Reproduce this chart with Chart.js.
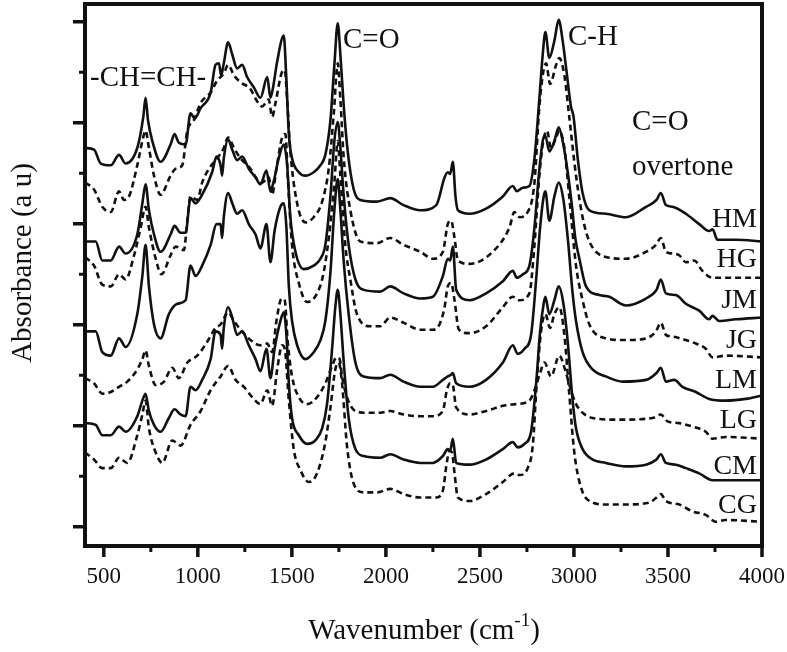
<!DOCTYPE html>
<html lang="en">
  <head>
    <meta charset="UTF-8" />
    <title>FTIR spectra</title>
    <script src="https://cdn.jsdelivr.net/npm/chart.js"></script>
    <style>
      html, body { margin: 0; padding: 0; background: #ffffff; }
      .chart-container { position: relative; width: 787px; height: 652px; }
    </style>
  </head>
  <body>
    <div class="chart-container">
      <canvas id="ftirChart"></canvas>
    </div>

    <script>
      // [wavenumber (cm-1), absorbance (a.u., stacked offsets)]
      const HM = [[400,117],[448,116.5],[484,112.5],[537,112],[581,115],[616,112.5],[678,117],[710,126],[722,131.5],[735,125],[758,119],[802,113],[855,118],[876,121],[899,118.5],[935,118],[961,127],[983,125.5],[1015,128.5],[1068,133],[1094,141],[1112,141.5],[1124,138],[1138,141.5],[1161,147.5],[1183,144],[1209,140],[1236,141],[1262,137.5],[1298,134.5],[1333,131.5],[1369,137.5],[1386,131.5],[1400,134.5],[1422,142],[1457,149.5],[1469,139],[1484,121],[1501,114],[1537,110],[1572,109],[1616,110],[1652,112],[1678,115],[1705,125],[1726,141],[1744,153],[1758,144],[1776,129],[1797,116],[1829,105],[1864,102],[1953,101.5],[2023,102.5],[2094,100.5],[2183,99],[2268,100.5],[2312,108.5],[2329,110],[2342,109.5],[2356,113],[2370,103],[2383,99],[2445,98],[2533,99.5],[2622,103],[2675,106],[2696,104.5],[2728,105.5],[2763,106],[2790,114],[2813,129],[2834,144],[2848,150.5],[2869,143],[2896,148],[2919,154],[2940,148],[2961,139],[2984,129],[2998,126],[3020,114],[3046,104],[3082,99],[3170,98],[3276,97],[3383,100],[3439,102],[3462,104],[3489,100.5],[3524,100],[3595,98],[3666,95],[3719,93],[3737,93.5],[3763,90.5],[3861,90.5],[4000,90]];
      const HG = [[400,107],[448,105],[492,100],[537,98.5],[581,104.5],[607,102],[634,103],[678,112],[705,119],[722,122],[740,117],[767,109],[802,103.5],[855,109],[882,111],[917,112],[944,122],[979,125],[1015,130],[1068,133],[1103,136.5],[1138,138.5],[1161,141],[1192,138],[1227,136],[1280,134],[1315,130.5],[1342,129],[1377,131],[1395,126],[1413,130],[1448,139],[1462,139.5],[1475,131],[1492,116],[1528,101],[1572,95.5],[1616,97],[1661,101.5],[1696,111],[1723,127],[1744,141.5],[1758,131],[1776,114],[1811,99],[1864,90],[1953,89.5],[2023,91],[2094,89],[2183,87],[2250,85],[2303,87],[2329,95],[2347,96],[2365,91],[2383,84.5],[2445,83.5],[2568,87],[2657,94],[2683,98.5],[2710,97],[2754,98.5],[2790,107],[2816,129],[2837,139],[2852,141.5],[2873,135.5],[2905,141],[2922,143],[2949,138],[2975,126],[3011,109],[3046,97],[3082,90],[3170,85.5],[3276,85],[3383,87],[3436,89],[3462,91],[3489,87],[3524,86.5],[3560,86],[3595,84],[3639,84.5],[3683,81.5],[3737,79.5],[3807,79.5],[4000,79.5]];
      const JM = [[400,90],[457,90],[492,84.5],[537,84.5],[581,88.5],[616,86.5],[678,92],[705,101],[722,106.5],[740,99],[767,92],[802,87],[855,92],[876,94.5],[908,92.5],[935,92.5],[961,102.5],[988,101],[1023,103.5],[1076,110],[1099,114.5],[1121,112],[1129,109],[1138,114],[1161,119.5],[1183,116.5],[1209,113.5],[1236,114.5],[1271,111],[1307,108.5],[1333,106.5],[1365,110.5],[1386,104.5],[1404,107.5],[1430,114],[1457,118],[1475,112],[1492,97],[1519,87],[1563,82],[1616,83],[1652,85],[1678,89],[1705,103],[1726,119],[1744,124.5],[1758,117],[1776,103],[1802,89],[1838,79],[1882,76],[1970,75.5],[2023,77],[2094,75],[2183,73.5],[2250,74],[2303,80],[2329,85],[2342,84.5],[2356,88.5],[2374,76],[2445,73],[2533,75],[2622,78.5],[2675,81.5],[2696,79.5],[2728,80.5],[2763,83],[2790,94],[2813,109],[2834,119],[2848,120.5],[2869,116],[2896,119],[2919,123],[2940,119],[2967,110],[2990,100],[3007,91],[3029,85],[3064,77],[3135,74.5],[3188,74],[3276,71.5],[3383,73.5],[3439,76],[3462,79],[3489,75],[3542,74.5],[3595,72],[3666,70],[3719,67.5],[3737,68.5],[3772,67],[3861,67.5],[4000,68]];
      const JG = [[400,85.5],[448,83],[492,77.5],[537,77],[581,80.5],[616,79],[661,86],[696,94],[722,100],[740,94],[776,85],[806,80.5],[855,86],[882,88.5],[926,87.5],[944,96],[961,103],[997,102],[1023,107],[1059,111],[1103,114],[1138,117],[1161,120],[1192,117],[1227,114],[1280,111],[1315,108],[1342,107],[1377,108.5],[1395,103.5],[1418,111],[1448,120],[1466,121],[1478,109],[1501,89],[1537,78],[1581,72.5],[1634,75],[1669,81],[1705,95],[1726,107],[1744,119],[1758,109],[1784,89],[1811,79],[1846,69],[1917,65.5],[1970,65.5],[2023,68],[2094,66.5],[2183,64.5],[2250,64.5],[2285,66],[2312,71],[2329,77],[2347,78],[2365,73],[2388,64.5],[2445,63.5],[2533,65.5],[2622,71],[2675,74],[2710,73],[2763,75],[2790,89],[2816,109],[2837,119],[2857,122],[2878,117],[2905,120],[2922,122],[2949,117],[2975,103],[3011,83],[3046,73],[3082,66],[3170,62],[3276,61.5],[3383,62],[3436,64],[3462,66.5],[3489,63],[3524,62.5],[3595,61.5],[3648,60.5],[3701,59],[3737,56.5],[3807,57],[4000,56.5]];
      const LM = [[400,64],[457,64],[492,58],[537,57],[581,62],[616,59.5],[678,69],[705,80],[722,89],[740,77],[767,66],[802,62],[846,69],[891,72],[935,73],[961,83],[988,80],[1023,83],[1068,89],[1099,95],[1121,95],[1129,91],[1138,97],[1161,104],[1183,101],[1209,98],[1236,99],[1271,95],[1307,92],[1333,88],[1365,95],[1386,84],[1408,93],[1439,100],[1457,101],[1471,94],[1484,77],[1501,67],[1528,60],[1572,56],[1616,58],[1652,61.5],[1678,67],[1705,81],[1726,99],[1744,108],[1758,99],[1776,84],[1802,69],[1838,55],[1882,51],[1970,50.5],[2023,51.5],[2094,49.5],[2183,48],[2250,48],[2303,50],[2329,51],[2347,51.5],[2356,52],[2374,49],[2445,48],[2533,50],[2622,55],[2675,60],[2701,57.5],[2737,59],[2772,63],[2799,79],[2820,94],[2839,103],[2848,104.5],[2869,96],[2896,103],[2919,107],[2944,102],[2967,91],[2993,75],[3011,67],[3046,58],[3099,53],[3170,51],[3259,49.5],[3383,50],[3439,52],[3462,53.5],[3489,49.5],[3533,50],[3577,48],[3648,46.5],[3719,44.5],[3807,44],[3913,44.5],[4000,45.5]];
      const LG = [[400,50.5],[448,49],[492,46],[537,46.5],[581,48],[625,49.5],[678,53],[705,56],[722,58.5],[740,54],[776,48.5],[820,49.5],[864,53.5],[899,50.5],[944,55],[997,57],[1050,61],[1094,65],[1121,66],[1161,69.5],[1192,67],[1227,64.5],[1280,61.5],[1333,60],[1369,60.5],[1395,58],[1418,67],[1445,73.5],[1462,73],[1478,61],[1501,51],[1537,45],[1581,43],[1634,45],[1678,49],[1714,54],[1737,56.5],[1754,56],[1767,51],[1793,45],[1838,41],[1900,40.5],[1970,40.5],[2023,41],[2094,40],[2183,39.5],[2250,39.5],[2303,41],[2324,47],[2342,49],[2356,48.5],[2374,42],[2445,40],[2533,41],[2622,42.5],[2692,43],[2763,44],[2790,47],[2820,52],[2843,55],[2878,51],[2922,57],[2958,52],[2984,47],[3011,43],[3046,40.5],[3099,39],[3241,38.5],[3418,39],[3462,40],[3498,38],[3560,37.5],[3630,36.5],[3701,35],[3737,33],[3807,33.5],[4000,33]];
      const CM = [[400,37.5],[457,37],[492,34],[537,34],[581,36.5],[616,35],[678,39.5],[705,44],[722,46],[740,41],[767,37],[802,35],[846,39],[876,41.5],[908,40],[935,39.5],[961,48],[988,47],[1023,50],[1068,56],[1094,64],[1121,63],[1129,59],[1138,65],[1161,71],[1183,68],[1209,63],[1236,64],[1271,60],[1307,56],[1333,52.5],[1365,59],[1386,50.5],[1408,59],[1439,67],[1457,69.5],[1471,63],[1484,49],[1501,39],[1537,34],[1581,31.5],[1625,32.5],[1661,36],[1687,43],[1714,59],[1731,71],[1744,76],[1758,69],[1776,55],[1802,39],[1838,30],[1882,28],[1970,27.5],[2023,28.5],[2094,27],[2183,26],[2250,26],[2303,28],[2329,30],[2342,29.5],[2356,33],[2374,26],[2445,25.5],[2533,27],[2622,30],[2675,32],[2701,30.5],[2737,31.5],[2772,35],[2799,49],[2820,64],[2839,72],[2848,74],[2869,69],[2896,73],[2919,77],[2944,72],[2967,61],[2993,44],[3011,36],[3046,30],[3099,27],[3170,26],[3276,25],[3383,25.5],[3439,27],[3462,28.5],[3489,26],[3542,25.5],[3595,24.5],[3666,23],[3737,21],[3807,21],[4000,21]];
      const CG = [[400,29],[448,27],[492,24.5],[537,24.5],[581,27.5],[625,26],[678,34],[705,40],[722,44],[740,36],[776,29],[811,26],[864,32.5],[908,31],[961,37],[1015,41],[1068,47],[1121,51],[1161,54],[1201,50],[1245,48],[1289,45],[1333,43],[1369,47],[1395,42.5],[1422,53],[1448,60],[1462,59],[1484,44],[1510,30],[1545,24],[1590,20.5],[1634,23],[1678,32],[1705,42],[1731,53],[1749,55],[1767,49],[1793,31],[1829,20],[1882,17.5],[1953,17.5],[2023,18.5],[2094,17],[2183,16],[2268,16],[2303,18],[2321,25],[2338,29.5],[2352,29],[2365,23],[2383,16],[2445,15],[2533,17],[2622,20.5],[2683,23],[2710,22.5],[2754,24.5],[2781,31],[2802,49],[2825,64],[2848,69],[2873,65],[2896,69],[2922,71],[2949,63],[2975,46],[3002,29],[3037,19],[3082,15],[3170,14],[3276,14],[3400,14.5],[3439,16],[3462,17],[3489,15],[3560,14],[3630,12],[3701,11],[3754,9],[3807,9.5],[4000,9]];

      const seriesNames = ["HM", "HG", "JM", "JG", "LM", "LG", "CM", "CG"];
      const seriesData = [HM, HG, JM, JG, LM, LG, CM, CG];
      const dashed = [false, true, false, true, false, true, false, true];

      const xMajorTicks = [500, 1000, 1500, 2000, 2500, 3000, 3500, 4000];
      const xMinorTicks = [750, 1250, 1750, 2250, 2750, 3250, 3750];
      const yMajorTicks = [7.55, 36.74, 65.93, 95.12, 124.31, 153.5];
      const yMinorTicks = [22.15, 51.34, 80.53, 109.72, 138.91];

      const serif = "'Liberation Serif', 'DejaVu Serif', serif";

      const framePlugin = {
        id: "frame",
        afterDraw(chart) {
          const { ctx, chartArea: a, scales } = chart;
          ctx.save();
          ctx.strokeStyle = "#111";
          ctx.lineWidth = 4;
          ctx.strokeRect(a.left, a.top, a.right - a.left, a.bottom - a.top);

          // outward ticks
          ctx.lineWidth = 3.5;
          ctx.beginPath();
          xMajorTicks.forEach((v) => {
            const px = scales.x.getPixelForValue(v);
            ctx.moveTo(px, a.bottom); ctx.lineTo(px, a.bottom + 11);
          });
          yMajorTicks.forEach((v) => {
            const py = scales.y.getPixelForValue(v);
            ctx.moveTo(a.left, py); ctx.lineTo(a.left - 12, py);
          });
          ctx.stroke();
          ctx.lineWidth = 3;
          ctx.beginPath();
          xMinorTicks.forEach((v) => {
            const px = scales.x.getPixelForValue(v);
            ctx.moveTo(px, a.bottom); ctx.lineTo(px, a.bottom + 6);
          });
          yMinorTicks.forEach((v) => {
            const py = scales.y.getPixelForValue(v);
            ctx.moveTo(a.left, py); ctx.lineTo(a.left - 6, py);
          });
          ctx.stroke();

          // annotations
          ctx.fillStyle = "#111";
          ctx.textBaseline = "middle";
          ctx.textAlign = "left";
          ctx.font = "29px " + serif;
          ctx.fillText("-CH=CH-", 90, 78);
          ctx.fillText("C=O", 343, 40);
          ctx.fillText("C-H", 568, 37);
          ctx.fillText("C=O", 632, 122);
          ctx.fillText("overtone", 632, 167);

          // sample labels
          ctx.font = "28px " + serif;
          ctx.textAlign = "right";
          const labelY = [220, 260, 301, 341, 381, 421, 467, 506];
          seriesNames.forEach((n, i) => ctx.fillText(n, 757, labelY[i]));

          // axis titles
          ctx.textAlign = "center";
          ctx.font = "29px " + serif;
          ctx.save();
          ctx.translate(23, 263);
          ctx.rotate(-Math.PI / 2);
          ctx.fillText("Absorbance (a u)", 0, 0);
          ctx.restore();

          const main = "Wavenumber (cm";
          ctx.font = "29px " + serif;
          const w1 = ctx.measureText(main).width;
          ctx.font = "19px " + serif;
          const w2 = ctx.measureText("-1").width;
          ctx.font = "29px " + serif;
          const w3 = ctx.measureText(")").width;
          let x0 = 424 - (w1 + w2 + w3) / 2;
          ctx.textAlign = "left";
          ctx.fillText(main, x0, 631);
          ctx.font = "19px " + serif;
          ctx.fillText("-1", x0 + w1, 621);
          ctx.font = "29px " + serif;
          ctx.fillText(")", x0 + w1 + w2, 631);
          ctx.restore();
        },
      };

      new Chart(document.getElementById("ftirChart"), {
        type: "line",
        data: {
          datasets: seriesData.map((d, i) => ({
            label: seriesNames[i],
            data: d.map((p) => ({ x: p[0], y: p[1] })),
            borderColor: "#111",
            borderWidth: 2.6,
            borderDash: dashed[i] ? [6, 4] : [],
            pointRadius: 0,
            cubicInterpolationMode: "monotone",
            fill: false,
          })),
        },
        options: {
          responsive: true,
          maintainAspectRatio: false,
          animation: false,
          layout: { padding: { top: 4, right: 25, left: 0, bottom: 0 } },
          plugins: { legend: { display: false }, tooltip: { enabled: false } },
          scales: {
            x: {
              type: "linear",
              min: 400,
              max: 4000,
              afterBuildTicks: (s) => { s.ticks = xMajorTicks.map((v) => ({ value: v })); },
              afterFit: (s) => { s.height = 106; s.paddingLeft = 0; s.paddingRight = 0; },
              grid: { display: false, drawTicks: false },
              border: { display: false },
              ticks: {
                color: "#111",
                padding: 17,
                maxRotation: 0,
                autoSkip: false,
                callback: (v) => String(v),
                font: { family: serif, size: 23 },
              },
            },
            y: {
              type: "linear",
              min: 2,
              max: 158.6,
              afterFit: (s) => { s.width = 85; s.paddingTop = 0; s.paddingBottom = 0; },
              grid: { display: false, drawTicks: false },
              border: { display: false },
              ticks: { display: false },
            },
          },
        },
        plugins: [framePlugin],
      });
    </script>
  </body>
</html>
